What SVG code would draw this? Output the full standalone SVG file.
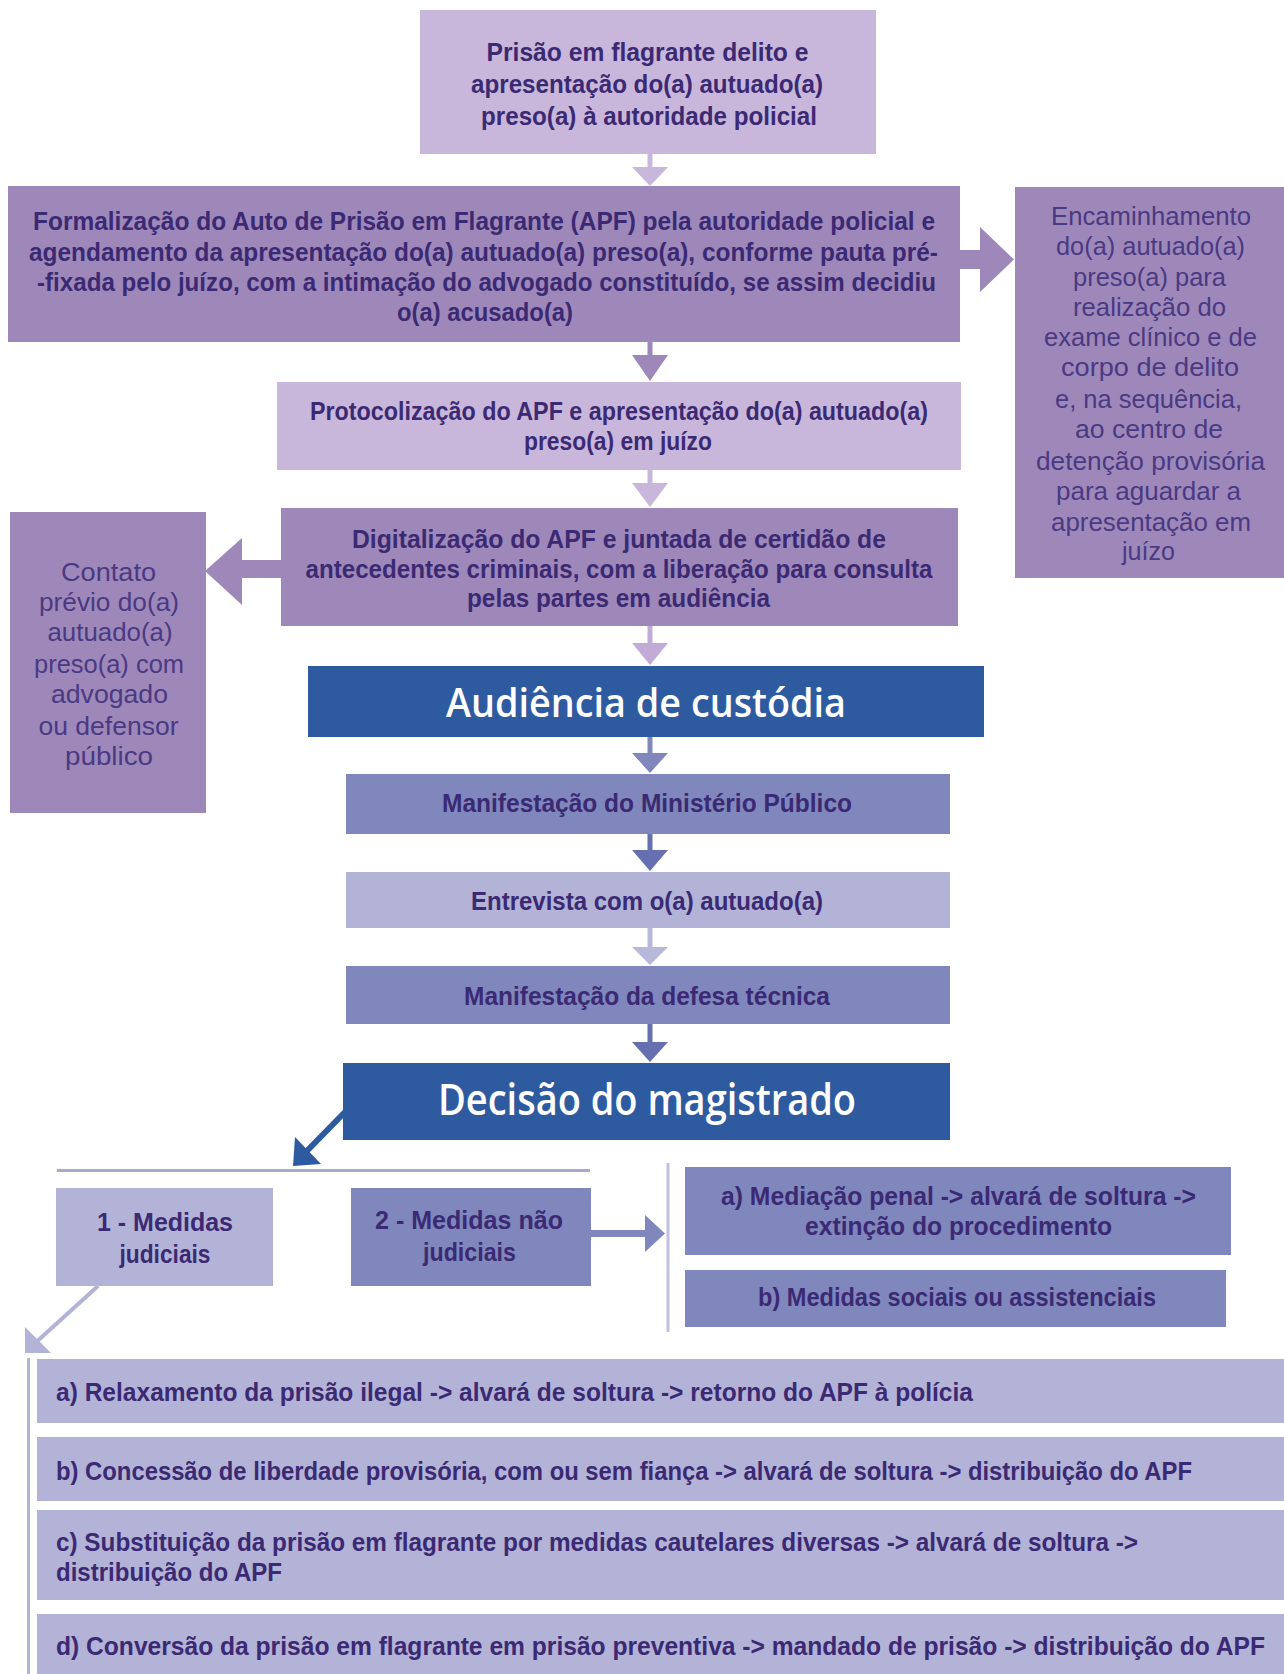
<svg xmlns="http://www.w3.org/2000/svg" width="1284" height="1674" viewBox="0 0 1284 1674">
<style>
text{font-family:"Liberation Sans",Arial,sans-serif;font-size:25px;fill:#3b2a73;text-anchor:middle;}
.b{font-weight:bold;}
.r{font-weight:normal;fill:#4a3983;font-size:25px;}
.l{text-anchor:start;}
.t{font-family:"Open Sans","Liberation Sans",sans-serif;font-weight:600;fill:#ffffff;}
.t1{font-size:40px;}
.t2{font-size:44px;}
.lav{fill:#c8b7da;}
.pur{fill:#9e88ba;}
.blu{fill:#2e5b9f;}
.per{fill:#7f87bd;}
.lper{fill:#b3b3d7;}
</style>
<g id="connectors">
  <line x1="650" y1="154" x2="650" y2="168" stroke="#c8b7da" stroke-width="5"/>
  <polygon points="632,167 668,167 650,186" fill="#c8b7da"/>
  <line x1="650" y1="342" x2="650" y2="356" stroke="#9e88ba" stroke-width="5"/>
  <polygon points="632,355 668,355 650,381" fill="#9e88ba"/>
  <line x1="650" y1="470" x2="650" y2="484" stroke="#c8b7da" stroke-width="5"/>
  <polygon points="632,483 668,483 650,507" fill="#c8b7da"/>
  <line x1="650" y1="626" x2="650" y2="644" stroke="#c0acd6" stroke-width="5"/>
  <polygon points="632,643 668,643 650,665" fill="#c0acd6"/>
  <line x1="650" y1="737" x2="650" y2="754" stroke="#7f87bd" stroke-width="5"/>
  <polygon points="632,753 668,753 650,773" fill="#7f87bd"/>
  <line x1="650" y1="834" x2="650" y2="851" stroke="#6670b0" stroke-width="5"/>
  <polygon points="632,850 668,850 650,871" fill="#6670b0"/>
  <line x1="650" y1="928" x2="650" y2="948" stroke="#b8b8da" stroke-width="5"/>
  <polygon points="632,947 668,947 650,965" fill="#b8b8da"/>
  <line x1="650" y1="1024" x2="650" y2="1043" stroke="#6670b0" stroke-width="5"/>
  <polygon points="632,1042 668,1042 650,1062" fill="#6670b0"/>
  <polygon points="958,250 980,250 980,227 1014,259.5 980,292 980,269 958,269" fill="#9e88ba"/>
  <polygon points="282,560 242,560 242,538 205,571 242,605 242,578 282,578" fill="#9e88ba"/>
  <line x1="345" y1="1112" x2="302" y2="1156" stroke="#2e5b9f" stroke-width="6"/>
  <polygon points="293,1166 295,1137 321,1164" fill="#2e5b9f"/>
  <line x1="57" y1="1170.5" x2="590" y2="1170.5" stroke="#a9a9d2" stroke-width="3"/>
  <line x1="668" y1="1163" x2="668" y2="1332" stroke="#c0c0de" stroke-width="3"/>
  <polygon points="590,1230 645,1230 645,1215 665,1233.5 645,1252 645,1237 590,1237" fill="#7f87bd"/>
  <line x1="98" y1="1286" x2="33" y2="1345" stroke="#b3b3d7" stroke-width="4"/>
  <polygon points="25,1353 25,1327 51,1353" fill="#b3b3d7"/>
  <line x1="28.5" y1="1358" x2="28.5" y2="1674" stroke="#b3b3d7" stroke-width="3"/>
</g>
<g id="n1">
  <rect class="lav" x="420" y="10" width="456" height="144"/>
  <text class="b" x="647.5" y="61" textLength="322" lengthAdjust="spacingAndGlyphs">Prisão em flagrante delito e</text>
  <text class="b" x="647" y="93" textLength="352" lengthAdjust="spacingAndGlyphs">apresentação do(a) autuado(a)</text>
  <text class="b" x="649" y="125" textLength="336" lengthAdjust="spacingAndGlyphs">preso(a) à autoridade policial</text>
</g>
<g id="n2">
  <rect class="pur" x="8" y="186" width="952" height="156"/>
  <text class="b" x="484" y="230" textLength="902" lengthAdjust="spacingAndGlyphs">Formalização do Auto de Prisão em Flagrante (APF) pela autoridade policial e</text>
  <text class="b" x="483.5" y="261" textLength="909" lengthAdjust="spacingAndGlyphs">agendamento da apresentação do(a) autuado(a) preso(a), conforme pauta pré-</text>
  <text class="b" x="486.5" y="291" textLength="899" lengthAdjust="spacingAndGlyphs">-fixada pelo juízo, com a intimação do advogado constituído, se assim decidiu</text>
  <text class="b" x="485" y="321" textLength="176" lengthAdjust="spacingAndGlyphs">o(a) acusado(a)</text>
</g>
<g id="n-encaminhamento">
  <rect class="pur" x="1015" y="187" width="269" height="391"/>
  <text class="r" x="1151" y="225" textLength="200" lengthAdjust="spacingAndGlyphs">Encaminhamento</text>
  <text class="r" x="1150.5" y="255" textLength="189" lengthAdjust="spacingAndGlyphs">do(a) autuado(a)</text>
  <text class="r" x="1149.5" y="286" textLength="153" lengthAdjust="spacingAndGlyphs">preso(a) para</text>
  <text class="r" x="1149.5" y="316" textLength="153" lengthAdjust="spacingAndGlyphs">realização do</text>
  <text class="r" x="1150.5" y="346" textLength="213" lengthAdjust="spacingAndGlyphs">exame clínico e de</text>
  <text class="r" x="1150" y="376" textLength="178" lengthAdjust="spacingAndGlyphs">corpo de delito</text>
  <text class="r" x="1148.5" y="408" textLength="187" lengthAdjust="spacingAndGlyphs">e, na sequência,</text>
  <text class="r" x="1149" y="438" textLength="148" lengthAdjust="spacingAndGlyphs">ao centro de</text>
  <text class="r" x="1150.5" y="470" textLength="229" lengthAdjust="spacingAndGlyphs">detenção provisória</text>
  <text class="r" x="1148.5" y="500" textLength="185" lengthAdjust="spacingAndGlyphs">para aguardar a</text>
  <text class="r" x="1151" y="531" textLength="200" lengthAdjust="spacingAndGlyphs">apresentação em</text>
  <text class="r" x="1148.5" y="560" textLength="53" lengthAdjust="spacingAndGlyphs">juízo</text>
</g>
<g id="n3">
  <rect class="lav" x="277" y="382" width="684" height="88"/>
  <text class="b" x="619" y="420" textLength="618" lengthAdjust="spacingAndGlyphs">Protocolização do APF e apresentação do(a) autuado(a)</text>
  <text class="b" x="618" y="450" textLength="188" lengthAdjust="spacingAndGlyphs">preso(a) em juízo</text>
</g>
<g id="n4">
  <rect class="pur" x="281" y="508" width="677" height="118"/>
  <text class="b" x="619" y="548" textLength="534" lengthAdjust="spacingAndGlyphs">Digitalização do APF e juntada de certidão de</text>
  <text class="b" x="619" y="578" textLength="627" lengthAdjust="spacingAndGlyphs">antecedentes criminais, com a liberação para consulta</text>
  <text class="b" x="618.5" y="607" textLength="303" lengthAdjust="spacingAndGlyphs">pelas partes em audiência</text>
</g>
<g id="n-contato">
  <rect class="pur" x="10" y="512" width="196" height="301"/>
  <text class="r" x="108.5" y="581" textLength="95" lengthAdjust="spacingAndGlyphs">Contato</text>
  <text class="r" x="109" y="611" textLength="140" lengthAdjust="spacingAndGlyphs">prévio do(a)</text>
  <text class="r" x="110" y="641" textLength="125" lengthAdjust="spacingAndGlyphs">autuado(a)</text>
  <text class="r" x="109" y="673" textLength="150" lengthAdjust="spacingAndGlyphs">preso(a) com</text>
  <text class="r" x="109.5" y="703" textLength="117" lengthAdjust="spacingAndGlyphs">advogado</text>
  <text class="r" x="108.5" y="735" textLength="140" lengthAdjust="spacingAndGlyphs">ou defensor</text>
  <text class="r" x="109" y="765" textLength="88" lengthAdjust="spacingAndGlyphs">público</text>
</g>
<g id="n-audiencia">
  <rect class="blu" x="308" y="666" width="676" height="71"/>
  <text class="t t1" x="646" y="717" textLength="400" lengthAdjust="spacingAndGlyphs">Audiência de custódia</text>
</g>
<g id="n-mp">
  <rect class="per" x="346" y="774" width="604" height="60"/>
  <text class="b" x="647" y="812" textLength="410" lengthAdjust="spacingAndGlyphs">Manifestação do Ministério Público</text>
</g>
<g id="n-entrevista">
  <rect class="lper" x="346" y="872" width="604" height="56"/>
  <text class="b" x="647" y="910" textLength="352" lengthAdjust="spacingAndGlyphs">Entrevista com o(a) autuado(a)</text>
</g>
<g id="n-defesa">
  <rect class="per" x="346" y="966" width="604" height="58"/>
  <text class="b" x="647" y="1005" textLength="366" lengthAdjust="spacingAndGlyphs">Manifestação da defesa técnica</text>
</g>
<g id="n-decisao">
  <rect class="blu" x="343" y="1063" width="607" height="77"/>
  <text class="t t2" x="647" y="1115" textLength="418" lengthAdjust="spacingAndGlyphs">Decisão do magistrado</text>
</g>
<g id="n-med1">
  <rect class="lper" x="56" y="1188" width="217" height="98"/>
  <text class="b" x="165" y="1231" textLength="136" lengthAdjust="spacingAndGlyphs">1 - Medidas</text>
  <text class="b" x="165" y="1263" textLength="91" lengthAdjust="spacingAndGlyphs">judiciais</text>
</g>
<g id="n-med2">
  <rect class="per" x="351" y="1188" width="240" height="98"/>
  <text class="b" x="469" y="1229" textLength="188" lengthAdjust="spacingAndGlyphs">2 - Medidas não</text>
  <text class="b" x="469.5" y="1261" textLength="93" lengthAdjust="spacingAndGlyphs">judiciais</text>
</g>
<g id="n-mediacao">
  <rect class="per" x="685" y="1167" width="546" height="88"/>
  <text class="b" x="958.5" y="1205" textLength="475" lengthAdjust="spacingAndGlyphs">a) Mediação penal -&gt; alvará de soltura -&gt;</text>
  <text class="b" x="958.5" y="1235" textLength="307" lengthAdjust="spacingAndGlyphs">extinção do procedimento</text>
</g>
<g id="n-sociais">
  <rect class="per" x="685" y="1270" width="541" height="57"/>
  <text class="b" x="957" y="1306" textLength="398" lengthAdjust="spacingAndGlyphs">b) Medidas sociais ou assistenciais</text>
</g>
<g id="n-relax">
  <rect class="lper" x="37" y="1359" width="1247" height="64"/>
  <text class="b l" x="56" y="1401" textLength="917" lengthAdjust="spacingAndGlyphs">a) Relaxamento da prisão ilegal -&gt; alvará de soltura -&gt; retorno do APF à polícia</text>
</g>
<g id="n-concessao">
  <rect class="lper" x="37" y="1437" width="1247" height="64"/>
  <text class="b l" x="56" y="1480" textLength="1136" lengthAdjust="spacingAndGlyphs">b) Concessão de liberdade provisória, com ou sem fiança -&gt; alvará de soltura -&gt; distribuição do APF</text>
</g>
<g id="n-substituicao">
  <rect class="lper" x="37" y="1510" width="1247" height="90"/>
  <text class="b l" x="56" y="1551" textLength="1082" lengthAdjust="spacingAndGlyphs">c) Substituição da prisão em flagrante por medidas cautelares diversas -&gt; alvará de soltura -&gt;</text>
  <text class="b l" x="56" y="1581" textLength="226" lengthAdjust="spacingAndGlyphs">distribuição do APF</text>
</g>
<g id="n-conversao">
  <rect class="lper" x="37" y="1614" width="1247" height="60"/>
  <text class="b l" x="56" y="1655" textLength="1209" lengthAdjust="spacingAndGlyphs">d) Conversão da prisão em flagrante em prisão preventiva -&gt; mandado de prisão -&gt; distribuição do APF</text>
</g>
</svg>
